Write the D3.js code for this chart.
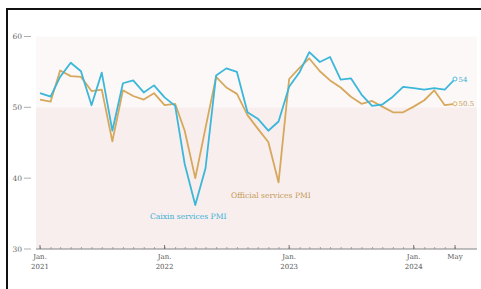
<!DOCTYPE html>
<html>
<head>
<meta charset="utf-8">
<script src="https://cdn.jsdelivr.net/npm/d3@7"></script>
<style>
  html, body { margin: 0; padding: 0; background: #fff; }
  svg { display: block; }
  text { font-family: "DejaVu Serif", serif; }
</style>
</head>
<body>
<svg id="chart" width="481" height="289"></svg>
<script>
  // monthly values, Jan 2021 - May 2024
  const startMonth = "2021-01";
  const caixin = [
    52.0, 51.5, 54.3, 56.3, 55.1, 50.3, 54.9, 46.7, 53.4, 53.8, 52.1, 53.1,
    51.4, 50.2, 42.0, 36.2, 41.4, 54.5, 55.5, 55.0, 49.3, 48.4, 46.7, 48.0,
    52.9, 55.0, 57.8, 56.4, 57.1, 53.9, 54.1, 51.8, 50.2, 50.4, 51.5, 52.9,
    52.7, 52.5, 52.7, 52.5, 54.0
  ];
  const official = [
    51.1, 50.8, 55.2, 54.4, 54.3, 52.3, 52.5, 45.2, 52.4, 51.6, 51.1, 52.0,
    50.3, 50.5, 46.7, 40.0, 47.1, 54.3, 52.8, 51.9, 48.9, 47.0, 45.1, 39.4,
    54.0, 55.6, 56.9, 55.1, 53.8, 52.8, 51.5, 50.5, 50.9, 50.1, 49.3, 49.3,
    50.1, 51.0, 52.4, 50.3, 50.5
  ];
  const yTicks = [30, 40, 50, 60];
  const xLabels = [
    ["2021-01", "Jan.", "2021"],
    ["2022-01", "Jan.", "2022"],
    ["2023-01", "Jan.", "2023"],
    ["2024-01", "Jan.", "2024"],
    ["2024-05", "May", ""]
  ];

  const parse = d3.timeParse("%Y-%m");
  const t0 = parse(startMonth);
  const months = caixin.map((_, i) => d3.timeMonth.offset(t0, i));

  const svg = d3.select("#chart");
  const x = d3.scaleTime().domain([t0, months[months.length - 1]]).range([40, 455]);
  const y = d3.scaleLinear().domain([30, 60]).range([249, 36.5]);

  const plotLeft = 36, plotRight = 477;

  // frame (top and left edges)
  svg.append("line").attr("x1", 6).attr("x2", 481).attr("y1", 9).attr("y2", 9)
    .attr("stroke", "#111").attr("stroke-width", 2);
  svg.append("line").attr("x1", 7).attr("x2", 7).attr("y1", 8).attr("y2", 289)
    .attr("stroke", "#111").attr("stroke-width", 2);

  // shaded bands
  svg.append("rect").attr("x", plotLeft).attr("width", plotRight - plotLeft)
    .attr("y", y(60)).attr("height", y(50) - y(60)).attr("fill", "#fcf8f8");
  svg.append("rect").attr("x", plotLeft).attr("width", plotRight - plotLeft)
    .attr("y", y(50)).attr("height", y(30) - y(50)).attr("fill", "#f8eeee");

  // y ticks
  const yg = svg.append("g");
  yTicks.forEach((v) => {
    yg.append("line").attr("x1", 24).attr("x2", 31).attr("y1", y(v)).attr("y2", y(v))
      .attr("stroke", "#999").attr("stroke-width", 0.8);
    yg.append("text").attr("x", 22).attr("y", y(v) + 2.5).attr("text-anchor", "end")
      .attr("font-size", 7.5).attr("fill", "#666").text(v);
  });

  // x axis
  const xAxis = d3.axisBottom(x)
    .ticks(d3.timeMonth.every(1))
    .tickSize(-2)
    .tickFormat("");
  const xg = svg.append("g").attr("transform", `translate(0,${y(30)})`).call(xAxis);
  xg.select(".domain").attr("d", `M${plotLeft},0H${plotRight}`).attr("stroke", "#777").attr("stroke-width", 0.9);
  xg.selectAll(".tick line").attr("stroke", "#888").attr("stroke-width", 0.7);

  xLabels.forEach(([m, a, b]) => {
    const px = x(parse(m));
    xg.append("line").attr("x1", px).attr("x2", px).attr("y1", -4).attr("y2", 0)
      .attr("stroke", "#666").attr("stroke-width", 0.9);
    xg.append("text").attr("x", px).attr("y", 10).attr("text-anchor", "middle")
      .attr("font-size", 7).attr("fill", "#555").text(a);
    if (b) {
      xg.append("text").attr("x", px).attr("y", 20).attr("text-anchor", "middle")
        .attr("font-size", 7).attr("fill", "#555").text(b);
    }
  });

  const line = d3.line().x((d, i) => x(months[i])).y((d) => y(d));

  const gold = "#d6a85c", blue = "#3bb7da";

  svg.append("path").datum(official).attr("d", line).attr("fill", "none")
    .attr("stroke", gold).attr("stroke-width", 1.8).attr("stroke-linejoin", "round");
  svg.append("path").datum(caixin).attr("d", line).attr("fill", "none")
    .attr("stroke", blue).attr("stroke-width", 1.8).attr("stroke-linejoin", "round");

  // end markers and labels
  const last = months.length - 1;
  [[official, gold, "#c49a55"], [caixin, blue, "#3aaed3"]].forEach(([s, c, tc]) => {
    svg.append("circle").attr("cx", x(months[last])).attr("cy", y(s[last])).attr("r", 2)
      .attr("fill", "#fff").attr("stroke", c).attr("stroke-width", 0.9);
    svg.append("text").attr("x", x(months[last]) + 3.5).attr("y", y(s[last]) + 2.5)
      .attr("font-size", 7).attr("fill", tc).text(s[last]);
  });

  // series labels
  svg.append("text").attr("x", 150).attr("y", 219).attr("font-size", 7.6)
    .attr("fill", "#3aaed3").text("Caixin services PMI");
  svg.append("text").attr("x", 231).attr("y", 198).attr("font-size", 7.6)
    .attr("fill", "#c49a55").text("Official services PMI");
</script>
</body>
</html>
